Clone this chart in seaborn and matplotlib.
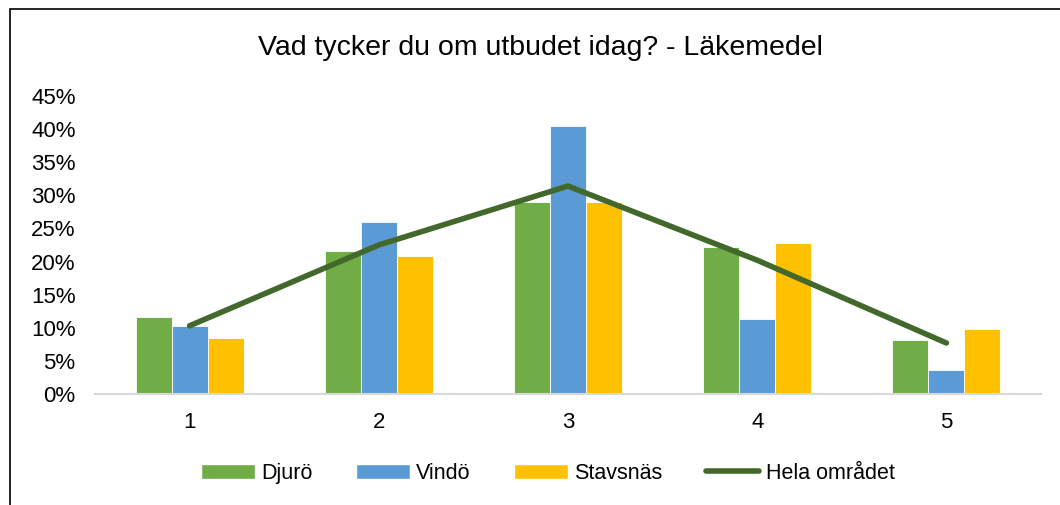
import matplotlib
matplotlib.use("Agg")
import matplotlib.pyplot as plt
import seaborn as sns
import pandas as pd
from matplotlib.patches import Patch, Rectangle
from matplotlib.lines import Line2D
from matplotlib.ticker import PercentFormatter

categories = ["1", "2", "3", "4", "5"]
djuro = [0.116, 0.216, 0.290, 0.222, 0.082]
vindo = [0.103, 0.260, 0.405, 0.113, 0.036]
stavsnas = [0.085, 0.208, 0.290, 0.228, 0.098]
hela = [0.103, 0.225, 0.314, 0.202, 0.077]

series = ["Djurö", "Vindö", "Stavsnäs"]
colors = ["#70AD47", "#5B9BD5", "#FFC000"]
line_color = "#43682B"

df = pd.DataFrame({
    "kategori": categories * 3,
    "andel": djuro + vindo + stavsnas,
    "ort": [s for s in series for _ in categories],
})

sns.set_theme(style="white")
plt.rcParams["font.family"] = ["Liberation Sans", "DejaVu Sans"]
plt.rcParams["text.color"] = "black"

fig = plt.figure(figsize=(10.6, 5.05), dpi=100)
ax = fig.add_axes([0.0896, 0.2198, 0.8925, 0.5902])

sns.barplot(data=df, x="kategori", y="andel", hue="ort", palette=colors,
            saturation=1, width=0.57, edgecolor="white", linewidth=0.6,
            ax=ax, legend=False)
sns.lineplot(x=list(range(len(categories))), y=hela, color=line_color,
             linewidth=4, ax=ax, solid_capstyle="round")

ax.set_xlim(-0.5, 4.5)
ax.set_ylim(0, 0.45)
ax.set_yticks([i * 0.05 for i in range(10)])
ax.yaxis.set_major_formatter(PercentFormatter(1.0, decimals=0))
ax.set_xlabel("")
ax.set_ylabel("")
for side in ["top", "right", "left"]:
    ax.spines[side].set_visible(False)
ax.spines["bottom"].set_color("#D9D9D9")
ax.spines["bottom"].set_linewidth(1.5)
ax.tick_params(axis="both", length=0, labelsize=16, colors="black")
ax.tick_params(axis="y", pad=14)
ax.tick_params(axis="x", pad=13)

fig.text(0.51, 0.905, "Vad tycker du om utbudet idag? - Läkemedel",
         ha="center", va="center", fontsize=20.5, color="black")

handles = [Patch(facecolor=c, label=s) for s, c in zip(series, colors)]
handles.append(Line2D([0], [0], color=line_color, linewidth=4,
                      solid_capstyle="round", label="Hela området"))
fig.legend(handles=handles, loc="center", bbox_to_anchor=(0.517, 0.063),
           ncol=4, frameon=False, fontsize=15.5, handlelength=2.5,
           handletextpad=0.3, columnspacing=2.0, labelcolor="black")

fig.patches.append(Rectangle((0.0095, -0.1), 1.2, 1.082, transform=fig.transFigure,
                             fill=False, edgecolor="black", linewidth=1.2))

fig.savefig("out.png", dpi=100)
